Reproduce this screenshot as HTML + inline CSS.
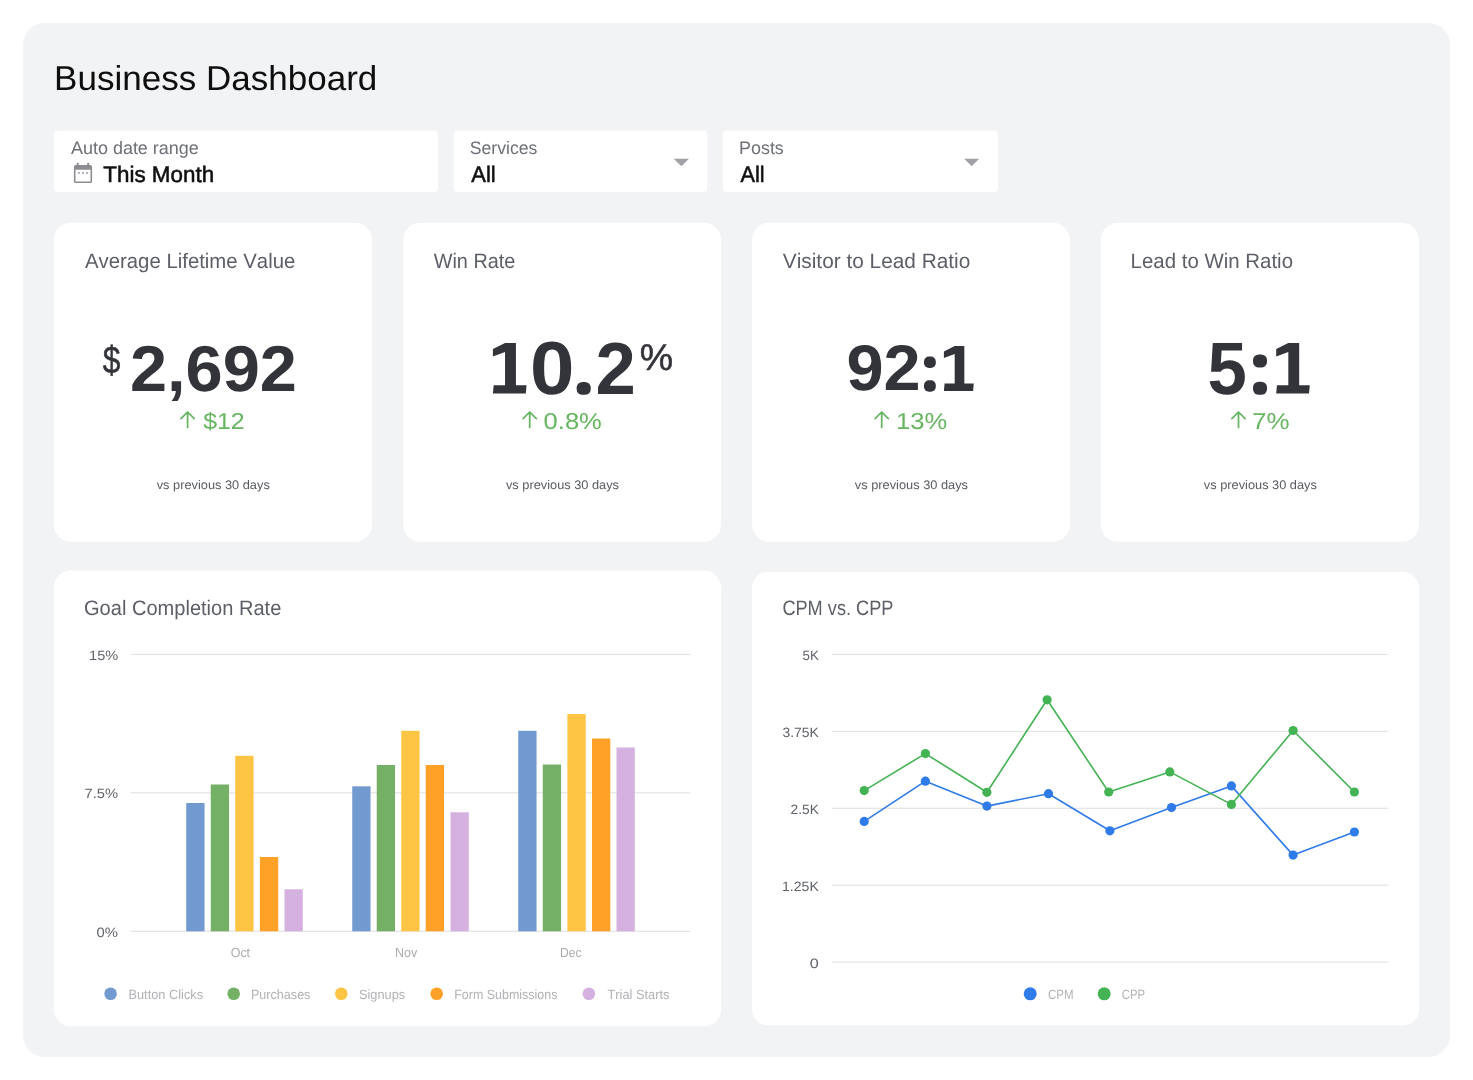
<!DOCTYPE html>
<html lang="en"><head><meta charset="utf-8"><title>Business Dashboard</title>
<style>html,body{margin:0;padding:0;background:#fff;overflow:hidden}
svg{display:block;will-change:transform;font-family:"Liberation Sans",sans-serif;font-kerning:none;text-rendering:geometricPrecision}
text{white-space:pre}</style></head>
<body>
<svg width="1473" height="1080" viewBox="0 0 1473 1080">
<rect x="23.10" y="23.10" width="1426.90" height="1033.80" rx="21.5" fill="#f2f3f5"/>
<text transform="translate(54.12 90.30) scale(1.0130 1)" font-size="34.6" fill="#0e0e0e">Business Dashboard</text>
<rect x="53.90" y="130.60" width="384.10" height="61.40" rx="4" fill="#ffffff"/>
<rect x="453.70" y="130.60" width="253.60" height="61.40" rx="4" fill="#ffffff"/>
<rect x="722.80" y="130.60" width="275.20" height="61.40" rx="4" fill="#ffffff"/>
<text transform="translate(70.96 154.10) scale(0.9979 1)" font-size="18" fill="#6d7076">Auto date range</text>
<text transform="translate(103.30 181.50) scale(0.9961 1)" font-size="22.5" fill="#101010" stroke="#101010" stroke-width="0.55">This Month</text>
<text transform="translate(469.80 154.10) scale(0.9785 1)" font-size="18" fill="#6d7076">Services</text>
<text transform="translate(471.26 181.50) scale(0.9763 1)" font-size="22.5" fill="#101010" stroke="#101010" stroke-width="0.55">All</text>
<text transform="translate(738.93 154.10) scale(0.9979 1)" font-size="18" fill="#6d7076">Posts</text>
<text transform="translate(740.56 181.50) scale(0.9635 1)" font-size="22.5" fill="#101010" stroke="#101010" stroke-width="0.55">All</text>
<path d="M673.7 158.7 H689.0 L681.4 166.2 Z" fill="#a0a1a4"/>
<path d="M964.2 158.7 H979.2 L971.7 166.2 Z" fill="#a0a1a4"/>
<g fill="none" stroke="#8b8d91" stroke-width="1.6"><rect x="74.7" y="165.8" width="16.6" height="16.5" rx="1.1"/></g><g fill="#8b8d91"><rect x="74.7" y="165.8" width="16.6" height="4" rx="1"/><rect x="76.7" y="162.8" width="2" height="4" rx=".6"/><rect x="87.2" y="162.8" width="2" height="4" rx=".6"/><rect x="78" y="172" width="2" height="2" opacity=".65"/><rect x="82" y="172" width="2" height="2" opacity=".65"/><rect x="86" y="172" width="2" height="2" opacity=".65"/></g>
<rect x="53.80" y="222.70" width="318.20" height="319.10" rx="17" fill="#ffffff"/>
<rect x="403.30" y="222.70" width="317.70" height="319.10" rx="17" fill="#ffffff"/>
<rect x="752.20" y="222.70" width="317.70" height="319.10" rx="17" fill="#ffffff"/>
<rect x="1100.80" y="222.70" width="318.10" height="319.10" rx="17" fill="#ffffff"/>
<text transform="translate(84.96 267.70) scale(0.9739 1)" font-size="20.9" fill="#5c5f67">Average Lifetime Value</text>
<text transform="translate(433.71 267.70) scale(0.9502 1)" font-size="20.9" fill="#5c5f67">Win Rate</text>
<text transform="translate(782.81 267.70) scale(0.9966 1)" font-size="20.9" fill="#5c5f67">Visitor to Lead Ratio</text>
<text transform="translate(1130.62 267.70) scale(0.9778 1)" font-size="20.9" fill="#5c5f67">Lead to Win Ratio</text>
<text transform="translate(129.99 390.70) scale(1.0279 1)" font-size="64.88" fill="#323439" font-weight="bold">2,692</text>
<path transform="translate(492.90 342.90) scale(50.60)" fill="#323439" d="M.24 0H.455V.835H.665L.65 1H0L.015 .835H.24V.18L0 .268V.12Z"/>
<text transform="translate(530.04 394.07) scale(1.0634 1)" font-size="75.14" fill="#323439" font-weight="bold">0</text>
<rect x="576.70" y="381.90" width="14.00" height="12.90" rx="5.88" ry="5.42" fill="#323439"/>
<text transform="translate(595.39 393.50) scale(0.9828 1)" font-size="73.76" fill="#323439" font-weight="bold">2</text>
<text transform="translate(846.39 390.27) scale(1.0354 1)" font-size="64.41" fill="#323439" font-weight="bold">92</text>
<rect x="924.00" y="356.60" width="11.80" height="11.40" rx="4.96" ry="4.79" fill="#323439"/>
<rect x="924.00" y="380.30" width="11.80" height="11.40" rx="4.96" ry="4.79" fill="#323439"/>
<path transform="translate(943.90 346.00) scale(44.90)" fill="#323439" d="M.24 0H.455V.835H.665L.65 1H0L.015 .835H.24V.18L0 .268V.12Z"/>
<text transform="translate(1207.42 394.08) scale(0.9529 1)" font-size="74.24" fill="#323439" font-weight="bold">5</text>
<rect x="1253.00" y="354.40" width="14.00" height="13.20" rx="5.88" ry="5.54" fill="#323439"/>
<rect x="1253.00" y="381.70" width="14.00" height="13.10" rx="5.88" ry="5.50" fill="#323439"/>
<path transform="translate(1276.20 343.00) scale(50.50)" fill="#323439" d="M.24 0H.455V.835H.665L.65 1H0L.015 .835H.24V.18L0 .268V.12Z"/>
<text transform="translate(102.66 372.70) scale(0.8287 1)" font-size="38.3" fill="#323439" stroke="#323439" stroke-width="0.5">$</text>
<text transform="translate(639.86 369.50) scale(1.0145 1)" font-size="37" fill="#323439" stroke="#323439" stroke-width="0.5">%</text>
<text transform="translate(203.13 428.80) scale(1.0819 1)" font-size="23" fill="#67b560">$12</text>
<text transform="translate(543.60 428.80) scale(1.1103 1)" font-size="23" fill="#67b560">0.8%</text>
<text transform="translate(895.95 428.80) scale(1.1113 1)" font-size="23" fill="#67b560">13%</text>
<text transform="translate(1252.07 428.80) scale(1.1266 1)" font-size="23" fill="#67b560">7%</text>
<path d="M187.6 427.4 V412.2 M181.0 418.6 L187.6 412 L194.2 418.6" fill="none" stroke="#67b560" stroke-width="1.75" stroke-linecap="round" stroke-linejoin="round"/>
<path d="M529.7 427.4 V412.2 M523.1 418.6 L529.7 412 L536.3 418.6" fill="none" stroke="#67b560" stroke-width="1.75" stroke-linecap="round" stroke-linejoin="round"/>
<path d="M881.7 427.4 V412.2 M875.1 418.6 L881.7 412 L888.3 418.6" fill="none" stroke="#67b560" stroke-width="1.75" stroke-linecap="round" stroke-linejoin="round"/>
<path d="M1238.5 427.4 V412.2 M1231.9 418.6 L1238.5 412 L1245.1 418.6" fill="none" stroke="#67b560" stroke-width="1.75" stroke-linecap="round" stroke-linejoin="round"/>
<text transform="translate(156.66 489.40) scale(1.0330 1)" font-size="12.4" fill="#585b62">vs previous 30 days</text>
<text transform="translate(505.96 489.40) scale(1.0321 1)" font-size="12.4" fill="#585b62">vs previous 30 days</text>
<text transform="translate(854.86 489.40) scale(1.0330 1)" font-size="12.4" fill="#585b62">vs previous 30 days</text>
<text transform="translate(1203.86 489.40) scale(1.0321 1)" font-size="12.4" fill="#585b62">vs previous 30 days</text>
<rect x="53.80" y="570.40" width="667.30" height="455.80" rx="17" fill="#ffffff"/>
<rect x="751.80" y="571.80" width="667.40" height="453.80" rx="17" fill="#ffffff"/>
<text transform="translate(83.99 615.40) scale(0.9600 1)" font-size="20.9" fill="#5c5f67">Goal Completion Rate</text>
<text transform="translate(782.38 615.40) scale(0.8696 1)" font-size="20.9" fill="#5c5f67">CPM vs. CPP</text>
<rect x="130.70" y="653.90" width="559.80" height="1.2" fill="#e4e4e5"/>
<rect x="130.70" y="792.20" width="559.80" height="1.2" fill="#e4e4e5"/>
<rect x="130.70" y="930.70" width="559.80" height="1.2" fill="#e4e4e5"/>
<text transform="translate(89.09 660.00) scale(1.0701 1)" font-size="13.6" fill="#60636a">15%</text>
<text transform="translate(84.44 798.20) scale(1.0833 1)" font-size="13.6" fill="#60636a">7.5%</text>
<text transform="translate(96.42 936.70) scale(1.0890 1)" font-size="13.6" fill="#60636a">0%</text>
<rect x="186.25" y="803.00" width="18.30" height="128.30" rx="0" fill="#729ad1"/>
<rect x="210.75" y="784.50" width="18.30" height="146.80" rx="0" fill="#74b066"/>
<rect x="235.25" y="755.80" width="18.30" height="175.50" rx="0" fill="#fdc543"/>
<rect x="259.90" y="857.00" width="18.30" height="74.30" rx="0" fill="#ffa127"/>
<rect x="284.50" y="889.30" width="18.30" height="42.00" rx="0" fill="#d5b1e0"/>
<rect x="352.25" y="786.30" width="18.30" height="145.00" rx="0" fill="#729ad1"/>
<rect x="376.75" y="765.00" width="18.30" height="166.30" rx="0" fill="#74b066"/>
<rect x="401.25" y="730.80" width="18.30" height="200.50" rx="0" fill="#fdc543"/>
<rect x="425.75" y="765.00" width="18.30" height="166.30" rx="0" fill="#ffa127"/>
<rect x="450.50" y="812.30" width="18.30" height="119.00" rx="0" fill="#d5b1e0"/>
<rect x="518.25" y="730.80" width="18.30" height="200.50" rx="0" fill="#729ad1"/>
<rect x="542.75" y="764.50" width="18.30" height="166.80" rx="0" fill="#74b066"/>
<rect x="567.40" y="714.00" width="18.30" height="217.30" rx="0" fill="#fdc543"/>
<rect x="592.00" y="738.50" width="18.30" height="192.80" rx="0" fill="#ffa127"/>
<rect x="616.50" y="747.50" width="18.30" height="183.80" rx="0" fill="#d5b1e0"/>
<text transform="translate(230.71 957.00) scale(0.9438 1)" font-size="13.2" fill="#a9abae">Oct</text>
<text transform="translate(394.97 957.00) scale(0.9487 1)" font-size="13.2" fill="#a9abae">Nov</text>
<text transform="translate(560.11 957.00) scale(0.9119 1)" font-size="13.2" fill="#a9abae">Dec</text>
<circle cx="110.6" cy="993.8" r="6.3" fill="#729ad1"/>
<text transform="translate(128.45 998.50) scale(0.9555 1)" font-size="13.4" fill="#b1b2b5">Button Clicks</text>
<circle cx="233.7" cy="993.8" r="6.3" fill="#74b066"/>
<text transform="translate(250.97 998.50) scale(0.9396 1)" font-size="13.4" fill="#b1b2b5">Purchases</text>
<circle cx="341.3" cy="993.8" r="6.3" fill="#fdc543"/>
<text transform="translate(359.02 998.50) scale(0.9528 1)" font-size="13.4" fill="#b1b2b5">Signups</text>
<circle cx="436.7" cy="993.8" r="6.3" fill="#ffa127"/>
<text transform="translate(454.18 998.50) scale(0.9317 1)" font-size="13.4" fill="#b1b2b5">Form Submissions</text>
<circle cx="588.9" cy="993.8" r="6.3" fill="#d5b1e0"/>
<text transform="translate(607.51 998.50) scale(0.9564 1)" font-size="13.4" fill="#b1b2b5">Trial Starts</text>
<rect x="832.00" y="653.90" width="556.30" height="1.2" fill="#e4e4e5"/>
<rect x="832.00" y="730.90" width="556.30" height="1.2" fill="#e4e4e5"/>
<rect x="832.00" y="807.70" width="556.30" height="1.2" fill="#e4e4e5"/>
<rect x="832.00" y="884.60" width="556.30" height="1.2" fill="#e4e4e5"/>
<rect x="832.00" y="961.50" width="556.30" height="1.2" fill="#e4e4e5"/>
<text transform="translate(802.46 659.90) scale(0.9851 1)" font-size="13.6" fill="#60636a">5K</text>
<text transform="translate(782.47 736.90) scale(1.0238 1)" font-size="13.6" fill="#60636a">3.75K</text>
<text transform="translate(790.61 813.70) scale(1.0096 1)" font-size="13.6" fill="#60636a">2.5K</text>
<text transform="translate(782.03 890.60) scale(1.0363 1)" font-size="13.6" fill="#60636a">1.25K</text>
<text transform="translate(809.67 967.50) scale(1.1844 1)" font-size="13.6" fill="#60636a">0</text>
<polyline points="864.2,821.4 925.4,781.2 986.9,806.1 1048.5,793.7 1109.9,830.8 1171.5,807.5 1231.4,785.9 1293.1,855.1 1354.4,832.0" fill="none" stroke="#2f7be9" stroke-width="1.6" stroke-linejoin="round"/>
<circle cx="864.2" cy="821.4" r="4.6" fill="#2f7be9"/>
<circle cx="925.4" cy="781.2" r="4.6" fill="#2f7be9"/>
<circle cx="986.9" cy="806.1" r="4.6" fill="#2f7be9"/>
<circle cx="1048.5" cy="793.7" r="4.6" fill="#2f7be9"/>
<circle cx="1109.9" cy="830.8" r="4.6" fill="#2f7be9"/>
<circle cx="1171.5" cy="807.5" r="4.6" fill="#2f7be9"/>
<circle cx="1231.4" cy="785.9" r="4.6" fill="#2f7be9"/>
<circle cx="1293.1" cy="855.1" r="4.6" fill="#2f7be9"/>
<circle cx="1354.4" cy="832.0" r="4.6" fill="#2f7be9"/>
<polyline points="864.2,790.6 925.4,753.6 986.9,792.3 1047.1,699.8 1108.7,792.0 1169.8,771.9 1231.4,804.4 1293.1,730.5 1354.4,792.0" fill="none" stroke="#44b354" stroke-width="1.6" stroke-linejoin="round"/>
<circle cx="864.2" cy="790.6" r="4.6" fill="#44b354"/>
<circle cx="925.4" cy="753.6" r="4.6" fill="#44b354"/>
<circle cx="986.9" cy="792.3" r="4.6" fill="#44b354"/>
<circle cx="1047.1" cy="699.8" r="4.6" fill="#44b354"/>
<circle cx="1108.7" cy="792.0" r="4.6" fill="#44b354"/>
<circle cx="1169.8" cy="771.9" r="4.6" fill="#44b354"/>
<circle cx="1231.4" cy="804.4" r="4.6" fill="#44b354"/>
<circle cx="1293.1" cy="730.5" r="4.6" fill="#44b354"/>
<circle cx="1354.4" cy="792.0" r="4.6" fill="#44b354"/>
<circle cx="1030.2" cy="993.8" r="6.5" fill="#2f7be9"/>
<text transform="translate(1048.02 998.50) scale(0.8572 1)" font-size="13.4" fill="#b1b2b5">CPM</text>
<circle cx="1104.2" cy="993.8" r="6.5" fill="#44b354"/>
<text transform="translate(1121.73 998.50) scale(0.8446 1)" font-size="13.4" fill="#b1b2b5">CPP</text>
</svg>
</body></html>
